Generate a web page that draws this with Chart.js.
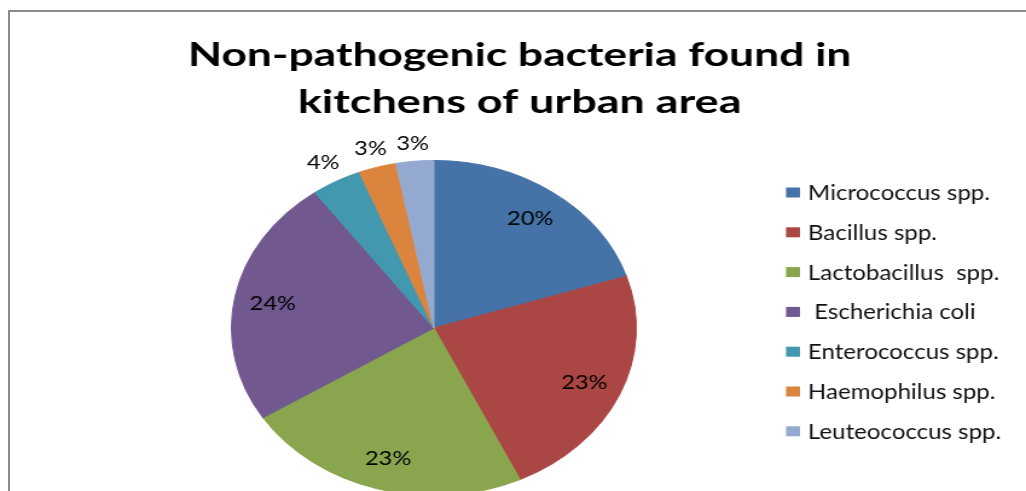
<!DOCTYPE html>
<html>
<head>
<meta charset="utf-8">
<script src="https://cdn.jsdelivr.net/npm/chart.js@4.4.1/dist/chart.umd.min.js"></script>
<style>
  html, body { margin: 0; padding: 0; background: #fff; overflow: hidden; }
  #wrap { position: relative; width: 1026px; height: 491px; overflow: hidden; }
  #frame { position: absolute; left: 8px; top: 10px; width: 1100px; height: 600px;
           border-left: 2px solid #8a8a8a; border-top: 2px solid #8a8a8a; }
  /* whole chart is drawn on a narrower canvas and stretched sideways */
  #pie { position: absolute; left: 0; top: 0; transform-origin: 0 0; transform: scaleX(1.2085); }
</style>
</head>
<body>
<div id="wrap">
  <div id="frame"></div>
  <canvas id="pie" width="849" height="520"></canvas>
</div>
<script>
const titleLines = ["Non-pathogenic bacteria found in", "kitchens of urban area"];
const categories = ["Micrococcus spp.", "Bacillus spp.", "Lactobacillus  spp.", " Escherichia coli",
                    "Enterococcus spp.", "Haemophilus spp.", "Leuteococcus spp."];
const shares = [20, 23, 23, 24, 4, 3, 3];
const sliceColors = ["#4572A7", "#AA4643", "#89A54E", "#71588F", "#4198AF", "#DB843D", "#93A9CF"];

const FONT = "Lato, 'Open Sans', sans-serif";

// draw text squeezed/stretched to a given width
function fitText(ctx, text, x, y, width, align) {
  const w = ctx.measureText(text).width;
  ctx.save();
  ctx.translate(x, y);
  ctx.scale(width / w, 1);
  ctx.textAlign = align;
  ctx.fillText(text, 0, 0);
  ctx.restore();
}

const titlePlugin = {
  id: "titleText",
  afterDraw(chart) {
    const ctx = chart.ctx;
    ctx.save();
    ctx.fillStyle = "#000";
    ctx.textBaseline = "alphabetic";
    ctx.font = `bold 32px ${FONT}`;
    fitText(ctx, titleLines[0], 430, 66, 549, "center");
    fitText(ctx, titleLines[1], 430, 113, 367, "center");
    ctx.restore();
  }
};

const legendPlugin = {
  id: "sideLegend",
  afterDraw(chart) {
    const ctx = chart.ctx;
    ctx.save();
    ctx.font = `20.5px ${FONT}`;
    ctx.textBaseline = "alphabetic";
    const k = 150.6 / ctx.measureText(categories[0]).width;
    const cap = ctx.measureText("M").actualBoundingBoxAscent;
    categories.forEach((name, i) => {
      const cy = 192.5 + i * 39.8;
      ctx.fillStyle = sliceColors[i];
      ctx.fillRect(650.4, cy - 5, 11.6, 10);
      ctx.fillStyle = "#111";
      const w = ctx.measureText(name).width;
      fitText(ctx, name, 668.6, cy + cap / 2, w * k, "left");
    });
    ctx.restore();
  }
};

const labelPlugin = {
  id: "sliceLabels",
  afterDatasetsDraw(chart) {
    const ctx = chart.ctx;
    const meta = chart.getDatasetMeta(0);
    ctx.save();
    ctx.font = `19.5px ${FONT}`;
    ctx.fillStyle = "#000";
    ctx.textAlign = "center";
    ctx.textBaseline = "alphabetic";
    meta.data.forEach((arc, i) => {
      const { x, y, startAngle, endAngle, outerRadius } =
        arc.getProps(["x", "y", "startAngle", "endAngle", "outerRadius"], true);
      const mid = (startAngle + endAngle) / 2;
      const text = shares[i] + "%";
      const m = ctx.measureText(text);
      const h = m.actualBoundingBoxAscent;
      const cos = Math.cos(mid), sin = Math.sin(mid);
      let d;
      if (shares[i] >= 10) {
        d = outerRadius * 0.81;
      } else {
        // small slices get their label outside the rim
        d = outerRadius + 9 + Math.abs(cos) * m.width / 2 + Math.abs(sin) * (h + 2) / 2;
      }
      ctx.fillText(text, x + cos * d, y + sin * d + h / 2);
    });
    ctx.restore();
  }
};

new Chart(document.getElementById("pie"), {
  type: "pie",
  data: {
    labels: categories,
    datasets: [{
      data: shares,
      backgroundColor: sliceColors,
      borderColor: sliceColors,
      borderWidth: 1
    }]
  },
  options: {
    responsive: false,
    devicePixelRatio: 1,
    animation: false,
    events: [],
    layout: { padding: { left: 191, right: 322, top: 160, bottom: 24 } },
    plugins: {
      legend: { display: false },
      title: { display: false },
      tooltip: { enabled: false }
    }
  },
  plugins: [labelPlugin, legendPlugin, titlePlugin]
});
</script>
</body>
</html>
